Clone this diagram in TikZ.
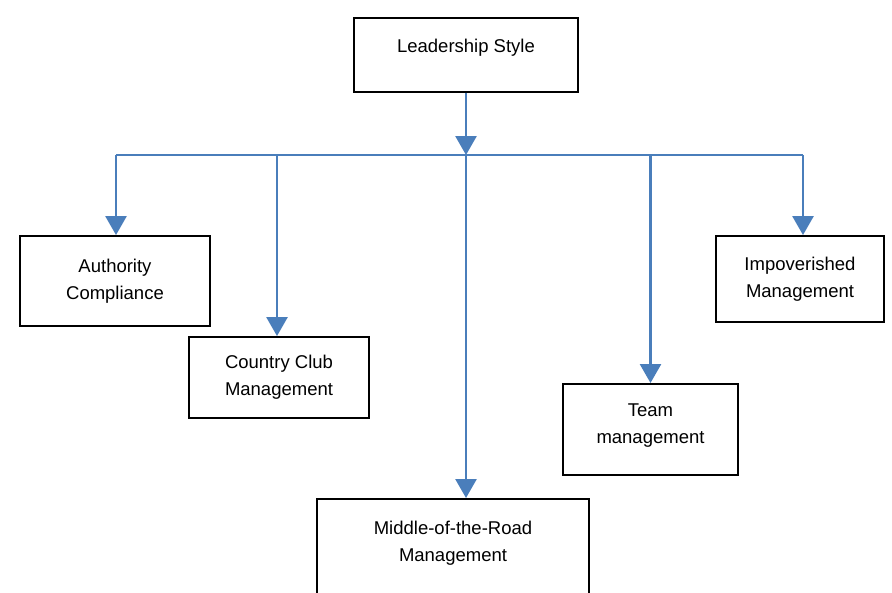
\documentclass[tikz,border=0pt]{standalone}
\usepackage{fontspec}
\setmainfont{Liberation Sans}
\usetikzlibrary{arrows.meta}
\definecolor{linkblue}{RGB}{74,126,187}

\begin{document}
\begin{tikzpicture}[x=1pt,y=-1pt,
  box/.style={draw,line width=1.9pt,inner sep=0pt,align=center,font=\fontsize{18.5}{27}\selectfont},
  link/.style={linkblue,line width=2.7pt,-{Triangle[width=21pt,length=19pt]}}]
  \useasboundingbox (0,0) rectangle (892,592);
  \clip (0,0) rectangle (892,592);
  \node[box,minimum width=224pt,text height=34.5pt,text depth=39.5pt] (lead) at (466,55) {Leadership Style};
  \node[box,minimum width=190pt,minimum height=90pt] (auth) at (115,281) {Authority\\Compliance};
  \node[box,minimum width=180pt,minimum height=81pt] (club) at (279,377.5) {Country Club\\Management};
  \node[box,anchor=north,minimum width=272pt,text height=62.5pt,text depth=130pt] (mid) at (453,498) {Middle-of-the-Road\\Management};
  \node[box,anchor=north,minimum width=175pt,text height=59.5pt,text depth=31.5pt] (team) at (650.5,383) {Team\\management};
  \node[box,minimum width=168pt,minimum height=86pt] (imp) at (800,279) {Impoverished\\Management};
  \coordinate (hub) at (466,155);
  \draw[link] (lead) -- (hub);
  \draw[linkblue,line width=2.7pt] ([xshift=1pt]auth.north |- hub) -- ([xshift=3pt]imp.north |- hub);
  \foreach \n/\dx in {auth/1,club/-2,team/0,imp/3}
    \draw[link] ([xshift=\dx pt]\n.north |- hub) -- ([xshift=\dx pt]\n.north);
  \draw[link] (hub) -- (hub |- mid.north);
\end{tikzpicture}
\end{document}
